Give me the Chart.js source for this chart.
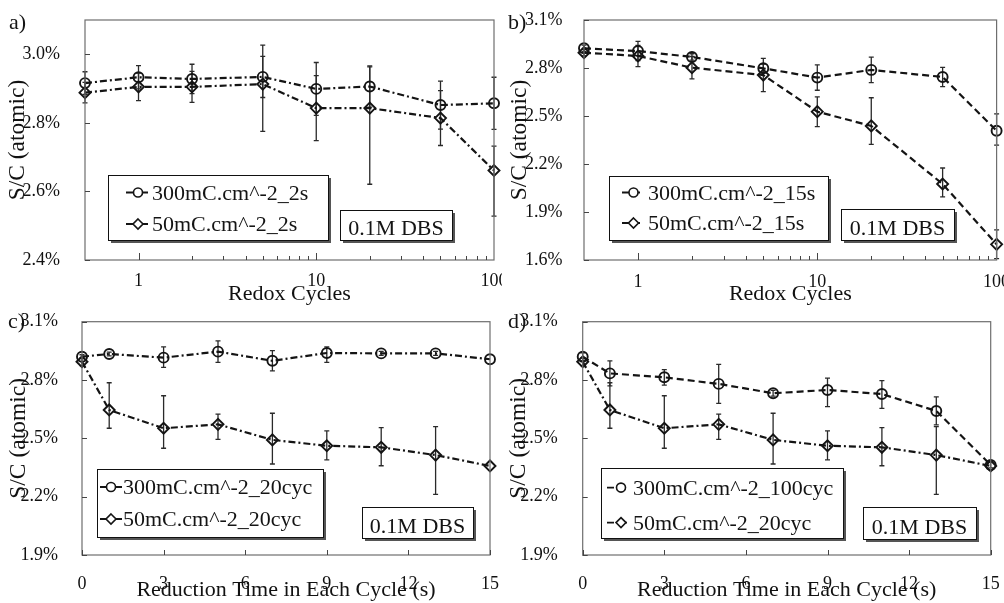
<!DOCTYPE html>
<html><head><meta charset="utf-8">
<script src="https://cdn.jsdelivr.net/npm/chart.js@4.4.1/dist/chart.umd.min.js"></script>
<style>
html,body{margin:0;padding:0;background:#fff;overflow:hidden;width:1004px;height:603px;position:relative;}
canvas{position:absolute;background:transparent;}
</style></head><body>
<canvas id="ca" width="502" height="312" style="left:0;top:0"></canvas>
<canvas id="cb" width="502" height="312" style="left:502px;top:0"></canvas>
<canvas id="cc" width="502" height="310" style="left:0;top:300px"></canvas>
<canvas id="cd" width="502" height="310" style="left:502px;top:300px"></canvas>
<script>
// ---------- data ----------
const redoxCycles = [0.5, 1, 2, 5, 10, 20, 50, 100];
const reductionTime = [0, 1, 3, 5, 7, 9, 11, 13, 15];

const logXTicks = [1, 10, 100];
const linXTicks = [0, 3, 6, 9, 12, 15];
const aYTicks = [2.4, 2.6, 2.8, 3.0];
const bYTicks = [1.6, 1.9, 2.2, 2.5, 2.8, 3.1];
const cdYTicks = [1.9, 2.2, 2.5, 2.8, 3.1];

// panel a (errors as [minus, plus])
const a300_2s = [2.916, 2.933, 2.928, 2.934, 2.899, 2.906, 2.852, 2.857];
const a300_2sErr = [[0.033,0.033],[0.034,0.034],[0.043,0.043],[0.06,0.06],[0.077,0.077],[0.06,0.06],[0.07,0.07],[0.076,0.076]];
const a50_2s = [2.888, 2.905, 2.905, 2.913, 2.843, 2.843, 2.814, 2.661];
const a50_2sErr = [[0.03,0.03],[0.04,0.04],[0.045,0.045],[0.138,0.114],[0.095,0.095],[0.222,0.12],[0.08,0.08],[0.133,0.071]];

// panel b
const b300_15s = [2.923, 2.906, 2.869, 2.798, 2.740, 2.788, 2.744, 2.408];
const b300_15sErr = [[0.02,0.02],[0.06,0.06],[0.02,0.02],[0.027,0.027],[0.079,0.079],[0.08,0.08],[0.06,0.06],[0.09,0.105]];
const b50_15s = [2.896, 2.875, 2.802, 2.756, 2.527, 2.438, 2.075, 1.698];
const b50_15sErr = [[0.02,0.02],[0.067,0.067],[0.07,0.07],[0.104,0.104],[0.093,0.093],[0.115,0.176],[0.08,0.1],[0.09,0.09]];

// panel c
const c300_20cyc = [2.920, 2.934, 2.915, 2.946, 2.899, 2.939, 2.937, 2.937, 2.907];
const c300_20cycErr = [[0.01,0.01],[0.01,0.01],[0.05,0.056],[0.055,0.055],[0.052,0.052],[0.048,0.032],[0.01,0.01],[0.01,0.01],[0,0]];
const c50_20cyc = [2.894, 2.646, 2.552, 2.572, 2.492, 2.462, 2.454, 2.414, 2.358];
const c50_20cycErr = [[0.02,0.02],[0.094,0.14],[0.103,0.167],[0.077,0.053],[0.124,0.137],[0.073,0.076],[0.095,0.101],[0.202,0.146],[0,0]];

// panel d
const d300_100cyc = [2.920, 2.834, 2.814, 2.780, 2.732, 2.749, 2.728, 2.641, 2.363];
const d300_100cycErr = [[0.02,0.02],[0.064,0.064],[0.04,0.04],[0.1,0.1],[0.015,0.015],[0.086,0.061],[0.074,0.069],[0.072,0.072],[0.015,0.015]];
const d50_20cyc = c50_20cyc;
const d50_20cycErr = c50_20cycErr;

// ---------- styling ----------
const FONT = '"Liberation Serif", "Times New Roman", serif';
const INK = '#141414';
const DASHDOT = [7, 3, 2, 3];
const DASH = [7, 4];

const panels = [
  { id:'ca', xs:redoxCycles, xType:'logarithmic', xMin:0.5, xMax:100, xTicks:logXTicks,
    yMin:2.4, yMax:3.1, yTicks:aYTicks, xTitle:'Redox Cycles', tag:'a)', tagPos:[9,28.5],
    series:[{label:'300mC.cm^-2_2s', values:a300_2s, errors:a300_2sErr, marker:'circle', dash:DASHDOT},
            {label:'50mC.cm^-2_2s', values:a50_2s, errors:a50_2sErr, marker:'rectRot', dash:DASHDOT}],
    lay:{left:85, top:20, right:8, xAxisH:52, xTickPad:2.7, xTitlePad:4.6, yTickPad:17, yTitlePad:3.6},
    legend:{x:108, y:175, w:220, h:65, lineX0:126, lineX1:150, markerX:138, textX:152, rows:[199.5,231]},
    note:{x:340, y:210, w:112, h:30} },
  { id:'cb', xs:redoxCycles, xType:'logarithmic', xMin:0.5, xMax:100, xTicks:logXTicks,
    yMin:1.6, yMax:3.1, yTicks:bYTicks, xTitle:'Redox Cycles', tag:'b)', tagPos:[6,28.5],
    series:[{label:'300mC.cm^-2_15s', values:b300_15s, errors:b300_15sErr, marker:'circle', dash:DASH},
            {label:'50mC.cm^-2_15s', values:b50_15s, errors:b50_15sErr, marker:'rectRot', dash:DASH}],
    lay:{left:82, top:20, right:7, xAxisH:52, xTickPad:3.2, xTitlePad:4.6, yTickPad:13.5, yTitlePad:3.3},
    legend:{x:107, y:176, w:219, h:64, lineX0:120, lineX1:140, markerX:131.5, textX:146, rows:[199.5,230]},
    note:{x:339, y:209, w:113, h:31} },
  { id:'cc', xs:reductionTime, xType:'linear', xMin:0, xMax:15, xTicks:linXTicks,
    yMin:1.9, yMax:3.1, yTicks:cdYTicks, xTitle:'Reduction Time in Each Cycle (s)', tag:'c)', tagPos:[8,28.3],
    series:[{label:'300mC.cm^-2_20cyc', values:c300_20cyc, errors:c300_20cycErr, marker:'circle', dash:DASHDOT},
            {label:'50mC.cm^-2_20cyc', values:c50_20cyc, errors:c50_20cycErr, marker:'rectRot', dash:DASHDOT}],
    lay:{left:82, top:21.7, right:12, xAxisH:55, xTickPad:10.2, xTitlePad:6.3, yTickPad:16, yTitlePad:4.6},
    legend:{x:97, y:169, w:226, h:68, lineX0:100, lineX1:122, markerX:111, textX:123, rows:[194,226]},
    note:{x:362, y:207, w:111, h:31} },
  { id:'cd', xs:reductionTime, xType:'linear', xMin:0, xMax:15, xTicks:linXTicks,
    yMin:1.9, yMax:3.1, yTicks:cdYTicks, xTitle:'Reduction Time in Each Cycle (s)', tag:'d)', tagPos:[6,28.3],
    series:[{label:'300mC.cm^-2_100cyc', values:d300_100cyc, errors:d300_100cycErr, marker:'circle', dash:DASH},
            {label:'50mC.cm^-2_20cyc', values:d50_20cyc, errors:d50_20cycErr, marker:'rectRot', dash:DASHDOT}],
    lay:{left:80.7, top:21.7, right:13.3, xAxisH:55, xTickPad:10.2, xTitlePad:6.3, yTickPad:17, yTitlePad:2.6},
    legend:{x:99, y:168, w:242, h:70, lineX0:105, lineX1:125, markerX:119, textX:131, rows:[194.6,229.6]},
    note:{x:361, y:207, w:113, h:32} }
];

function drawMarker(ctx, style, x, y, r) {
  ctx.beginPath();
  if (style === 'circle') ctx.arc(x, y, r, 0, Math.PI * 2);
  else { ctx.moveTo(x, y - r); ctx.lineTo(x + r, y); ctx.lineTo(x, y + r); ctx.lineTo(x - r, y); ctx.closePath(); }
  ctx.fillStyle = '#fff'; ctx.fill(); ctx.stroke();
}

function shadowBox(ctx, b) {
  ctx.fillStyle = '#555';
  ctx.fillRect(b.x + 3, b.y + 3, b.w, b.h);
  ctx.fillStyle = '#fff';
  ctx.fillRect(b.x, b.y, b.w, b.h);
  ctx.strokeStyle = '#111'; ctx.lineWidth = 1;
  ctx.strokeRect(b.x + 0.5, b.y + 0.5, b.w, b.h);
}

function makeDecor(cfg) {
  return {
    id: 'panelDecor',
    beforeDatasetsDraw(chart) {
      const ctx = chart.ctx, ys = chart.scales.y;
      ctx.save();
      ctx.strokeStyle = '#2a2a2a'; ctx.lineWidth = 1.3; ctx.setLineDash([]);
      chart.data.datasets.forEach((ds, di) => {
        const meta = chart.getDatasetMeta(di);
        ds.errors.forEach((e, i) => {
          const v = ds.data[i].y, px = meta.data[i].x;
          const y0 = ys.getPixelForValue(v - e[0]), y1 = ys.getPixelForValue(v + e[1]);
          if (Math.abs(y0 - y1) < 0.5) return;
          ctx.beginPath();
          ctx.moveTo(px, y0); ctx.lineTo(px, y1);
          ctx.moveTo(px - 2.5, y0); ctx.lineTo(px + 2.5, y0);
          ctx.moveTo(px - 2.5, y1); ctx.lineTo(px + 2.5, y1);
          ctx.stroke();
        });
      });
      ctx.restore();
    },
    afterDatasetsDraw(chart) {
      const ctx = chart.ctx, a = chart.chartArea, xs = chart.scales.x, ys = chart.scales.y;
      ctx.save();
      ctx.setLineDash([]);
      // frame
      ctx.strokeStyle = '#6e6e6e'; ctx.lineWidth = 1.2;
      ctx.strokeRect(a.left, a.top, a.right - a.left, a.bottom - a.top);
      // inward ticks
      ctx.strokeStyle = '#444'; ctx.lineWidth = 1;
      ctx.beginPath();
      ys.ticks.forEach(t => {
        const y = Math.round(ys.getPixelForValue(t.value)) + 0.5;
        ctx.moveTo(a.left, y); ctx.lineTo(a.left + 5, y);
      });
      if (cfg.xType === 'logarithmic') {
        [1, 10].forEach(d => {
          for (let k = 1; k < 10; k++) {
            const v = k * d;
            const x = Math.round(xs.getPixelForValue(v)) + 0.5;
            const len = k === 1 ? 7 : 4;
            ctx.moveTo(x, a.bottom); ctx.lineTo(x, a.bottom - len);
          }
        });
      } else {
        xs.ticks.forEach(t => {
          const x = Math.round(xs.getPixelForValue(t.value)) + 0.5;
          ctx.moveTo(x, a.bottom); ctx.lineTo(x, a.bottom - 5);
        });
      }
      ctx.stroke();

      // legend box
      const L = cfg.legend;
      shadowBox(ctx, L);
      ctx.font = '22px ' + FONT;
      ctx.textBaseline = 'alphabetic'; ctx.textAlign = 'left';
      chart.data.datasets.forEach((ds, di) => {
        const base = L.rows[di], cy = base - 7;
        ctx.strokeStyle = INK; ctx.lineWidth = 1.8;
        ctx.setLineDash(ds.borderDash);
        ctx.beginPath(); ctx.moveTo(L.lineX0, cy); ctx.lineTo(L.lineX1, cy); ctx.stroke();
        ctx.setLineDash([]); ctx.lineWidth = 1.6;
        drawMarker(ctx, ds.pointStyle, L.markerX, cy, ds.pointStyle === 'circle' ? 4.5 : 5);
        ctx.fillStyle = INK;
        ctx.fillText(ds.label, L.textX, base);
      });

      // note box
      const N = cfg.note;
      shadowBox(ctx, N);
      ctx.fillStyle = INK; ctx.textAlign = 'center';
      ctx.fillText('0.1M DBS', N.x + N.w / 2, N.y + N.h - 5);

      // panel tag
      ctx.textAlign = 'left';
      ctx.fillText(cfg.tag, cfg.tagPos[0], cfg.tagPos[1]);
      ctx.restore();
    }
  };
}

function makePanel(cfg) {
  const L = cfg.lay;
  const datasets = cfg.series.map(s => ({
    label: s.label,
    data: cfg.xs.map((x, i) => ({ x: x, y: s.values[i] })),
    errors: s.errors,
    borderColor: INK, borderWidth: 2.2, borderDash: s.dash, borderCapStyle: 'butt',
    pointStyle: s.marker, pointRadius: s.marker === 'circle' ? 5 : 5.5,
    pointBorderWidth: 1.9, pointBorderColor: INK, pointBackgroundColor: 'rgba(255,255,255,0)',
    fill: false, tension: 0, clip: false
  }));
  new Chart(document.getElementById(cfg.id), {
    type: 'line',
    data: { datasets },
    options: {
      responsive: false, animation: false, devicePixelRatio: 1,
      layout: { padding: { top: L.top, right: L.right, left: 0, bottom: 0 } },
      plugins: { legend: { display: false }, tooltip: { enabled: false } },
      scales: {
        x: {
          type: cfg.xType, min: cfg.xMin, max: cfg.xMax,
          grid: { display: false }, border: { display: false },
          ticks: { font: { family: FONT, size: 18 }, color: '#111', padding: L.xTickPad,
                   autoSkip: false, maxRotation: 0, callback: v => String(v) },
          afterBuildTicks: s => { s.ticks = cfg.xTicks.map(v => ({ value: v })); },
          afterFit: s => { s.height = L.xAxisH; s.paddingLeft = 0; s.paddingRight = 0; },
          title: { display: true, text: cfg.xTitle, color: '#111',
                   font: { family: FONT, size: 22 }, padding: { top: 0, bottom: L.xTitlePad } }
        },
        y: {
          type: 'linear', min: cfg.yMin, max: cfg.yMax,
          grid: { display: false }, border: { display: false },
          ticks: { font: { family: FONT, size: 18 }, color: '#111', padding: L.yTickPad,
                   autoSkip: false, callback: v => Number(v).toFixed(1) + '%' },
          afterBuildTicks: s => { s.ticks = cfg.yTicks.map(v => ({ value: v })); },
          afterFit: s => { s.width = L.left; s.paddingTop = 0; s.paddingBottom = 0; },
          title: { display: true, text: 'S/C (atomic)', color: '#111',
                   font: { family: FONT, size: 23.5 }, padding: { top: L.yTitlePad, bottom: 0 } }
        }
      }
    },
    plugins: [makeDecor(cfg)]
  });
}

panels.forEach(makePanel);
</script>
</body></html>
